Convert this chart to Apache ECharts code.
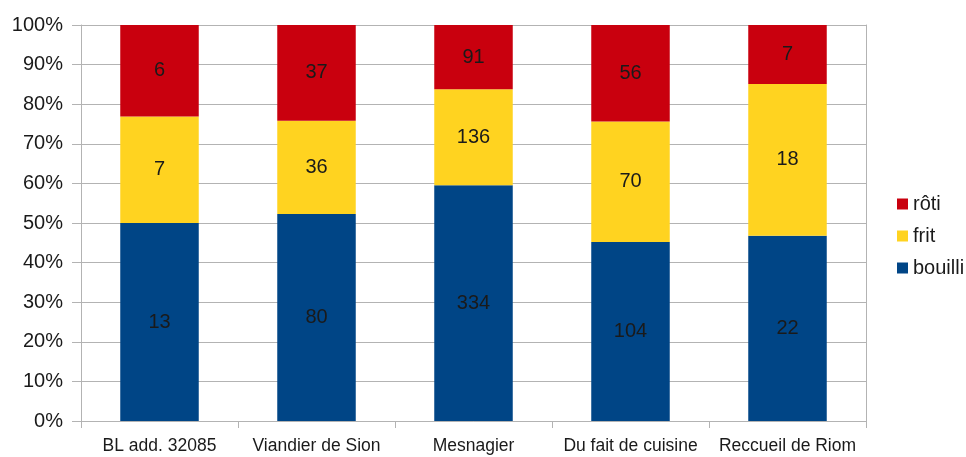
<!DOCTYPE html>
<html>
<head>
<meta charset="utf-8">
<script src="https://cdn.jsdelivr.net/npm/echarts@6/dist/echarts.min.js"></script>
<style>
  html, body { margin: 0; padding: 0; background: #fff; }
  #chart { width: 966px; height: 457px; }
</style>
</head>
<body>
<div id="chart"></div>
<script>
// recettes par mode de cuisson
var categories = ['BL add. 32085', 'Viandier de Sion', 'Mesnagier', 'Du fait de cuisine', 'Reccueil de Riom']
var bouilli = [13, 80, 334, 104, 22]
var frit = [7, 36, 136, 70, 18]
var roti = [6, 37, 91, 56, 7]
var yTicks = [0, 10, 20, 30, 40, 50, 60, 70, 80, 90, 100]

var totals = categories.map(function (c, i) { return bouilli[i] + frit[i] + roti[i] })

function toPct(arr) {
  return arr.map(function (v, i) { return { value: v / totals[i] * 100, count: v } })
}

var labelStyle = {
  show: true,
  position: 'inside',
  color: '#1a1a1a',
  fontSize: 20,
  fontFamily: 'Liberation Sans',
  formatter: function (p) { return p.data.count }
}

var chart = echarts.init(document.getElementById('chart'))
chart.setOption({
  animation: false,
  textStyle: { fontFamily: 'Liberation Sans' },
  grid: { left: 81, right: 100, top: 25, bottom: 36, containLabel: false },
  legend: {
    orient: 'vertical',
    left: 892,
    top: 189,
    itemWidth: 11,
    itemHeight: 11,
    itemGap: 12,
    icon: 'rect',
    textStyle: { fontSize: 20, color: '#1a1a1a', padding: [0, 0, 0, 0] },
    data: ['rôti', 'frit', 'bouilli']
  },
  xAxis: {
    type: 'category',
    data: categories,
    axisLine: { lineStyle: { color: '#b3b3b3' } },
    axisTick: { show: true, length: 7, lineStyle: { color: '#b3b3b3' } },
    axisLabel: { color: '#1a1a1a', fontSize: 17.5, margin: 16, interval: 0 }
  },
  yAxis: [{
    type: 'value',
    min: 0,
    max: 100,
    interval: 10,
    axisLine: { show: true, lineStyle: { color: '#b3b3b3' } },
    axisTick: { show: true, length: 9, inside: false, lineStyle: { color: '#b3b3b3' } },
    splitLine: { lineStyle: { color: '#b3b3b3' } },
    axisLabel: {
      color: '#1a1a1a',
      fontSize: 20,
      margin: 18,
      formatter: function (v) { return yTicks.indexOf(v) >= 0 ? v + '%' : '' }
    }
  }, {
    type: 'value',
    position: 'right',
    min: 0,
    max: 100,
    interval: 10,
    axisLine: { show: true, lineStyle: { color: '#b3b3b3' } },
    axisTick: { show: false },
    splitLine: { show: false },
    axisLabel: { show: false }
  }],
  series: [
    { name: 'bouilli', type: 'bar', stack: 'total', barWidth: '50%', data: toPct(bouilli),
      itemStyle: { color: '#004586' }, label: labelStyle },
    { name: 'frit', type: 'bar', stack: 'total', barWidth: '50%', data: toPct(frit),
      itemStyle: { color: '#ffd320' }, label: labelStyle },
    { name: 'rôti', type: 'bar', stack: 'total', barWidth: '50%', data: toPct(roti),
      itemStyle: { color: '#c9000e' }, label: labelStyle }
  ]
})
</script>
</body>
</html>
